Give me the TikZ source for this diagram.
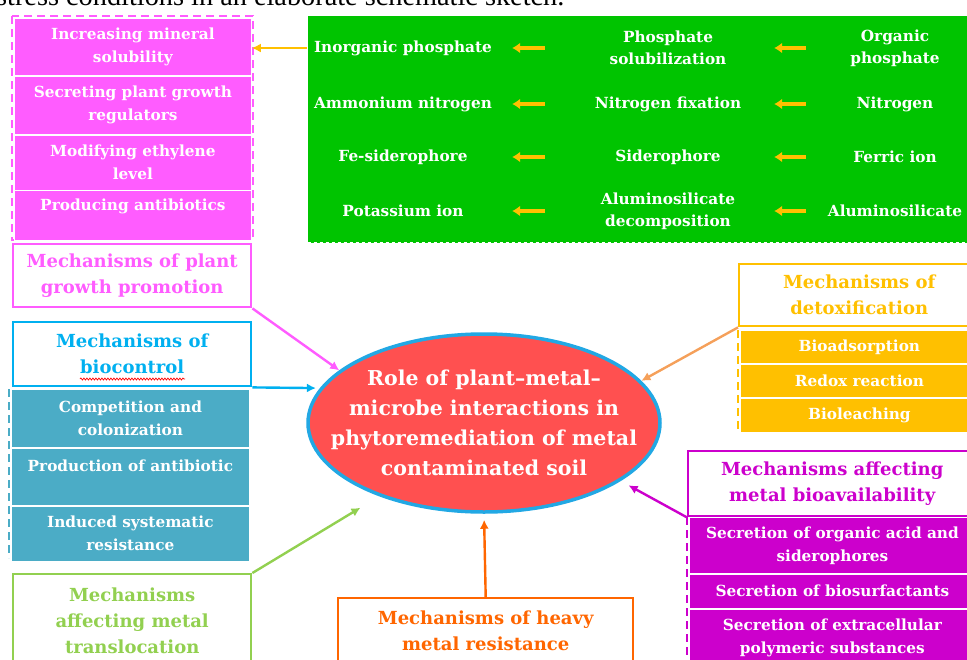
\documentclass[tikz,border=0pt]{standalone}
\usepackage{fontspec}
\setmainfont{DejaVu Serif}
\newfontfamily\capfont{Liberation Serif}
\usetikzlibrary{arrows.meta}
\usetikzlibrary{positioning}
\usetikzlibrary{shapes.geometric}
\usetikzlibrary{decorations.pathmorphing}

\definecolor{pinkc}{HTML}{FF5CFF}
\definecolor{greenc}{HTML}{00C400}
\definecolor{arrowy}{HTML}{FFC000}
\definecolor{bluec}{HTML}{00B0F0}
\definecolor{tealc}{HTML}{4BACC6}
\definecolor{lgreenc}{HTML}{92D050}
\definecolor{redc}{HTML}{FF5050}
\definecolor{ringc}{HTML}{22A8E4}
\definecolor{goldc}{HTML}{FFC000}
\definecolor{tanc}{HTML}{F5A05A}
\definecolor{purplec}{HTML}{CC00CC}
\definecolor{orangec}{HTML}{FF6600}

\tikzset{
  mechitem/.style={fill=#1, draw=white, line width=0.8pt, text=white, align=center,
    inner sep=0pt, anchor=north west, font=\bfseries\fontsize{15.3}{23}\selectfont},
  mechhead/.style={fill=white, draw=#1, line width=2.4pt, text=#1, align=center,
    inner sep=0pt, anchor=north west, font=\bfseries\fontsize{18}{26}\selectfont},
  phostext/.style={text=white, align=center, inner sep=0pt, minimum width=#1,
    font=\bfseries\fontsize{15.3}{22}\selectfont},
  feed/.style={draw=#1, line width=2.4pt, -{Latex[length=9pt,width=9pt]}},
  shortfeed/.style={draw=arrowy, line width=3.2pt, -{Latex[length=8pt,width=11pt]}},
  groupline/.style={draw=#1, dash pattern=on 8pt off 5pt, line width=1.6pt},
}

\begin{document}
\begin{tikzpicture}[x=1pt, y=-1pt]
\clip (0,0) rectangle (967,659);
\node[anchor=base west, inner sep=0pt, font=\capfont\fontsize{28.3}{30}\selectfont] (capt) at (-4,5) {stress conditions in an elaborate schematic sketch.};

% plant growth promotion
\draw[groupline=pinkc] (12,16) rectangle (253,240);
\node[mechitem=pinkc, minimum width=237, minimum height=57] (incr) at (14,18) {Increasing mineral\\solubility};
\node[mechitem=pinkc, minimum width=237, minimum height=58] (secr) at (incr.south west) {Secreting plant growth\\regulators};
\node[mechitem=pinkc, minimum width=237, minimum height=55] (ethy) at (secr.south west) {Modifying ethylene\\level};
\node[mechitem=pinkc, minimum width=237, minimum height=50] (antb) at (ethy.south west) {Producing antibiotics\\~};
\node[mechhead=pinkc, minimum width=238, minimum height=63] (pgp) at (12,243) {Mechanisms of plant\\growth promotion};

% nutrient conversions
\node[fill=greenc, draw=white, dashed, line width=1pt, minimum width=672, minimum height=227,
  anchor=north west, inner sep=0pt] (phos) at (307,15) {};
\node[phostext=200] (inorg) at (403,48) {Inorganic phosphate};
\node[phostext=230] (solub) at (668,48) {Phosphate\\solubilization};
\node[phostext=170] (orgp) at (895,48) {Organic\\phosphate};
\node[phostext=200] (ammo) at (403,104) {Ammonium nitrogen};
\node[phostext=230] (nfix) at (668,104) {Nitrogen fixation};
\node[phostext=170] (nitr) at (895,104) {Nitrogen};
\node[phostext=200] (fesid) at (403,157) {Fe-siderophore};
\node[phostext=230] (sido) at (668,157) {Siderophore};
\node[phostext=170] (ferr) at (895,157) {Ferric ion};
\node[phostext=200] (pota) at (403,211) {Potassium ion};
\node[phostext=230] (aldec) at (668,211) {Aluminosilicate\\decomposition};
\node[phostext=170] (alsi) at (895,211) {Aluminosilicate};
\foreach \l/\m/\r in {inorg/solub/orgp, ammo/nfix/nitr, fesid/sido/ferr, pota/aldec/alsi} {
  \draw[shortfeed, shorten <=4pt, shorten >=-9pt] (\r.west) -- (\m.east);
  \draw[shortfeed, shorten <=8pt, shorten >=9pt] (\m.west) -- (\l.east);
}
\draw[feed=arrowy] (phos.west |- inorg) -- (incr.east |- inorg);

% biocontrol
\node[mechhead=bluec, minimum width=238, minimum height=64] (bioc) at (12,321) {Mechanisms of\\biocontrol};
\draw[red, line width=0.7pt, decorate, decoration={snake, amplitude=1pt, segment length=3pt}] (80,379) -- (185,379);
\node[mechitem=tealc, minimum width=238, minimum height=58] (comp) at (11,389) {Competition and\\colonization};
\node[mechitem=tealc, minimum width=238, minimum height=57] (prod) at (comp.south west) {Production of antibiotic\\~};
\node[mechitem=tealc, minimum width=238, minimum height=55] (isr) at (prod.south west) {Induced systematic\\resistance};
\draw[groupline=white] (11,389) -- (249,389);
\draw[groupline=tealc] (9,389) -- (9,558);

% translocation
\node[mechhead=lgreenc, minimum width=238, minimum height=94] (trans) at (12,573) {Mechanisms\\affecting metal\\translocation};

% central topic
\node[ellipse, fill=redc, draw=ringc, line width=3.5pt, minimum width=352, minimum height=178,
  inner sep=0pt] (role) at (484,423) {};
\node[text=white, align=center, inner sep=0pt, font=\bfseries\fontsize{20.5}{30}\selectfont]
  (roletext) at (role.center) {Role of plant--metal--\\microbe interactions in\\phytoremediation of metal\\contaminated soil};

% detoxification
\node[mechhead=goldc, minimum width=240, minimum height=62] (detox) at (738,263) {Mechanisms of\\detoxification};
\node[mechitem=goldc, minimum width=238, minimum height=33] (bads) at (740,330) {Bioadsorption};
\node[mechitem=goldc, minimum width=238, minimum height=33] (redox) at (bads.south west) {Redox reaction};
\node[mechitem=goldc, minimum width=238, minimum height=34] (blch) at (redox.south west) {Bioleaching};
\draw[groupline=goldc] (738,330) -- (738,430);

% bioavailability
\node[mechhead=purplec, minimum width=288, minimum height=65] (bioav) at (687,450) {Mechanisms affecting\\metal bioavailability};
\node[mechitem=purplec, minimum width=286, minimum height=56] (orga) at (689,517) {Secretion of organic acid and\\siderophores};
\node[mechitem=purplec, minimum width=286, minimum height=34] (surf) at (orga.south west) {Secretion of biosurfactants};
\node[mechitem=purplec, minimum width=286, minimum height=58] (eps) at (surf.south west) {Secretion of extracellular\\polymeric substances};
\draw[groupline=purplec] (687,517) -- (687,659);

% heavy metal resistance
\node[mechhead=orangec, minimum width=295, minimum height=66] (heavy) at (337,597) {Mechanisms of heavy\\metal resistance};

% links to the centre
\draw[feed=pinkc] (pgp.south east) -- (role.160);
\draw[feed=bluec, shorten >=4pt] (bioc.south east) -- (role.168);
\draw[feed=lgreenc, shorten >=22pt] (trans.north east) -- (role.215);
\draw[feed=tanc] (detox.south west) -- (role.15);
\draw[feed=purplec, shorten >=9pt] (bioav.south west) -- (role.337);
\draw[feed=orangec, shorten >=6pt] (heavy.north) -- (role.south);
\end{tikzpicture}
\end{document}
